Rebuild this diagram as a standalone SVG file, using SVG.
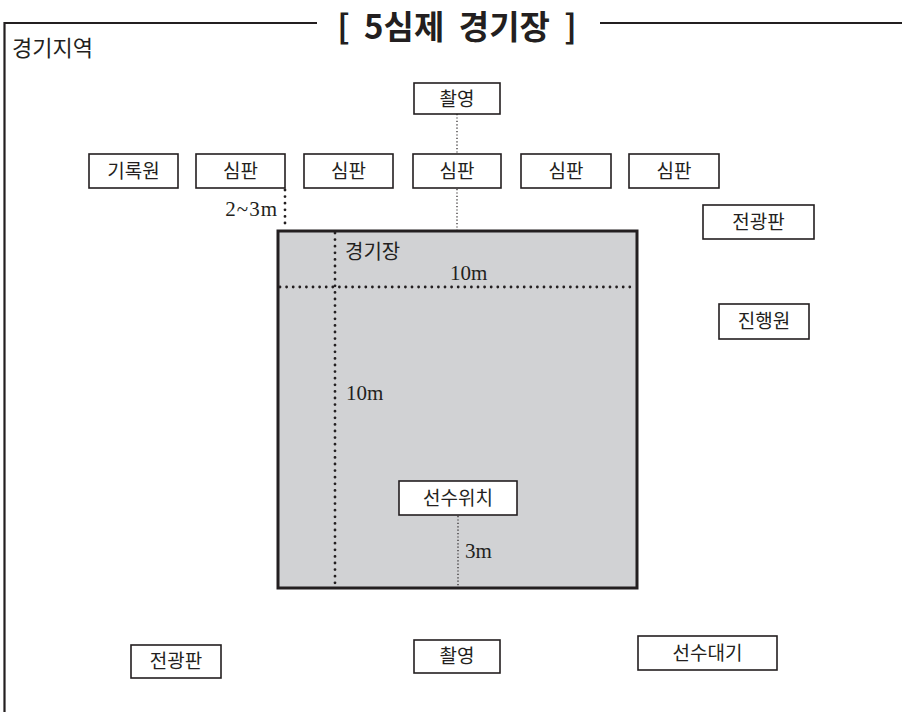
<svg xmlns="http://www.w3.org/2000/svg" width="902" height="712" viewBox="0 0 902 712">
<style>
.box{fill:#fff;stroke:#231f20;stroke-width:1.6}
.lbl{font-family:"Noto Sans CJK KR","Noto Sans",sans-serif;font-size:19px;fill:#231f20;text-anchor:middle}
.ser{font-family:"Liberation Serif",serif;font-size:21px;fill:#231f20}
.thin{stroke:#231f20;stroke-width:1.2;stroke-dasharray:1.2 2.2;fill:none}
.heavy{stroke:#231f20;stroke-width:2.8;stroke-linecap:round;stroke-dasharray:0 6.6;fill:none}
</style>
<rect width="902" height="712" fill="#fff"/>
<g id="frame">
<path d="M4.5 712 V23 H317 M600 23 H902" fill="none" stroke="#231f20" stroke-width="2.2"/>
<text x="457" y="39" text-anchor="middle" font-family="Noto Sans CJK KR, sans-serif" font-weight="bold" font-size="33" word-spacing="7" fill="#231f20">[ 5심제 경기장 ]</text>
<text x="12" y="56" font-family="Noto Sans CJK KR, sans-serif" font-size="22" fill="#231f20">경기지역</text>
</g>
<g id="field">
<rect x="278" y="231" width="359" height="357" fill="#d1d2d4" stroke="#231f20" stroke-width="3"/>
<text x="345" y="259" font-family="Noto Sans CJK KR, sans-serif" font-size="20" fill="#231f20">경기장</text>
</g>
<g id="connectors">
<path class="heavy" d="M335 233 V586"/>
<path class="heavy" d="M280 287 H635"/>
<path class="heavy" d="M285 190 V229"/>
<path class="thin" d="M457 114 V154"/>
<path class="thin" d="M457 189 V230"/>
<path class="thin" d="M458 516 V588"/>
<text class="ser" x="450" y="280">10m</text>
<text class="ser" x="346" y="400">10m</text>
<text class="ser" x="278" y="216" text-anchor="end" letter-spacing="1">2~3m</text>
<text class="ser" x="465" y="558">3m</text>
</g>
<g id="n-camera-top"><rect class="box" x="414" y="83" width="86" height="31"/><text class="lbl" x="457" y="106">촬영</text></g>
<g id="n-recorder"><rect class="box" x="89" y="154" width="89" height="34"/><text class="lbl" x="133.5" y="178">기록원</text></g>
<g id="n-judge1"><rect class="box" x="196" y="154" width="89" height="34"/><text class="lbl" x="240.5" y="178">심판</text></g>
<g id="n-judge2"><rect class="box" x="304" y="154" width="89" height="34"/><text class="lbl" x="348.5" y="178">심판</text></g>
<g id="n-judge3"><rect class="box" x="413" y="154" width="88" height="34"/><text class="lbl" x="457" y="178">심판</text></g>
<g id="n-judge4"><rect class="box" x="521" y="154" width="90" height="34"/><text class="lbl" x="566" y="178">심판</text></g>
<g id="n-judge5"><rect class="box" x="629" y="154" width="90" height="34"/><text class="lbl" x="674" y="178">심판</text></g>
<g id="n-scoreboard-r"><rect class="box" x="703" y="205" width="111" height="34"/><text class="lbl" x="758.5" y="229">전광판</text></g>
<g id="n-progress"><rect class="box" x="719" y="304" width="90" height="35"/><text class="lbl" x="764" y="328">진행원</text></g>
<g id="n-player"><rect class="box" x="399" y="481" width="118" height="34"/><text class="lbl" x="458" y="505">선수위치</text></g>
<g id="n-scoreboard-b"><rect class="box" x="131" y="645" width="90" height="33"/><text class="lbl" x="176" y="668">전광판</text></g>
<g id="n-camera-b"><rect class="box" x="414" y="640" width="86" height="33"/><text class="lbl" x="457" y="663">촬영</text></g>
<g id="n-waiting"><rect class="box" x="638" y="636" width="139" height="34"/><text class="lbl" x="707.5" y="660">선수대기</text></g>
</svg>
